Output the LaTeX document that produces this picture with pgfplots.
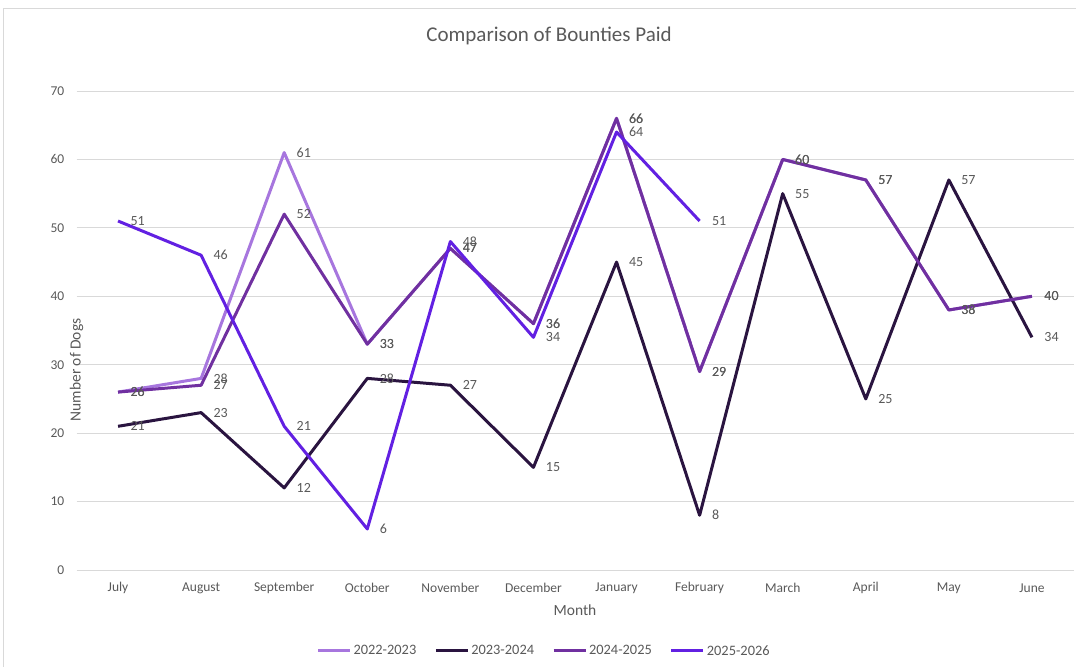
\documentclass[border=0pt]{standalone}
\usepackage{fontspec}
\setmainfont{Carlito}
\usepackage{pgfplots}
\pgfplotsset{compat=1.18}
\definecolor{cA}{RGB}{167,118,222}
\definecolor{cB}{RGB}{42,20,64}
\definecolor{cC}{RGB}{112,48,160}
\definecolor{cD}{RGB}{98,32,226}
\definecolor{txt}{RGB}{89,89,89}
\definecolor{gridc}{RGB}{217,217,217}
\begin{document}
\begin{tikzpicture}
\path[use as bounding box] (0,0) rectangle (1076bp,667bp);
\draw[gridc, line width=0.8bp] (3bp,-5bp) rectangle (1082bp,659bp);
\begin{axis}[
  at={(76.5bp,97bp)}, anchor=south west,
  scale only axis, width=997bp, height=479bp,
  xmin=-0.5, xmax=11.5, ymin=0, ymax=70,
  ytick={0,10,...,70},
  xtick={0,...,11},
  xticklabels={July,August,September,October,November,December,January,February,March,April,May,June},
  axis line style={draw=none},
  tick style={draw=none},
  ymajorgrids, major grid style={gridc, line width=0.9bp},
  /pgf/number format/assume math mode=true,
  ticklabel style={font=\fontsize{13.5bp}{16bp}\selectfont, text=txt},
  xticklabel style={anchor=center, inner sep=0pt, yshift=-18bp},
  yticklabel style={anchor=east, inner sep=0pt, xshift=-12bp},
  title={Comparison of Bounties Paid},
  title style={at={(0.474,1)}, anchor=center, yshift=49bp, font=\fontsize{21bp}{25bp}\selectfont, text=txt},
  xlabel={Month},
  xlabel style={at={(0.5,0)}, anchor=center, yshift=-40bp, font=\fontsize{15.5bp}{18bp}\selectfont, text=txt},
  ylabel={Number of Dogs},
  ylabel style={at={(0,0.5)}, anchor=center, xshift=-39.5bp, font=\fontsize{15.5bp}{18bp}\selectfont, text=txt},
  clip=false,
  nodes near coords,
  every node near coord/.append style={anchor=west, inner sep=0pt, xshift=11bp, font=\fontsize{14bp}{16bp}\selectfont, text=txt},
  legend style={at={(0.469,-0.169)}, anchor=center, draw=none, fill=none, legend columns=4,
    font=\fontsize{14.4bp}{17bp}\selectfont, text=txt,
    /tikz/every even column/.append style={column sep=16bp},
    /tikz/every odd column/.append style={column sep=0bp}},
  legend image code/.code={\draw[#1, line width=3bp] (0bp,0bp) -- (32bp,0bp);},
]
\addplot[cA, line width=3bp, mark=none, line join=round] coordinates {(0,26) (1,28) (2,61) (3,33) (4,47) (5,36) (6,66) (7,29) (8,60) (9,57) (10,38) (11,40)};
\addlegendentry{2022-2023}
\addplot[cB, line width=3bp, mark=none, line join=round] coordinates {(0,21) (1,23) (2,12) (3,28) (4,27) (5,15) (6,45) (7,8) (8,55) (9,25) (10,57) (11,34)};
\addlegendentry{2023-2024}
\addplot[cC, line width=3bp, mark=none, line join=round] coordinates {(0,26) (1,27) (2,52) (3,33) (4,47) (5,36) (6,66) (7,29) (8,60) (9,57) (10,38) (11,40)};
\addlegendentry{2024-2025}
\addplot[cD, line width=3bp, mark=none, line join=round] coordinates {(0,51) (1,46) (2,21) (3,6) (4,48) (5,34) (6,64) (7,51)};
\addlegendentry{2025-2026}
\end{axis}
\end{tikzpicture}
\end{document}
